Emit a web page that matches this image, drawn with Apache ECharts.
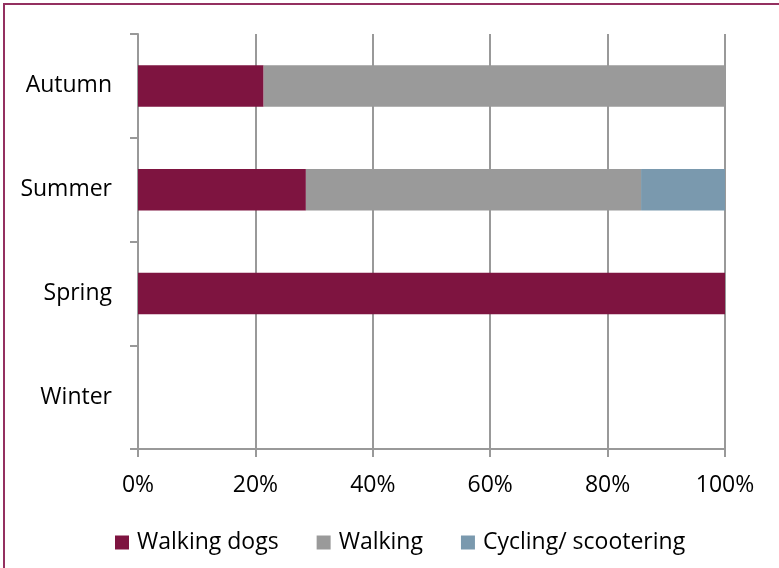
<!DOCTYPE html>
<html>
<head>
<meta charset="utf-8">
<script src="https://cdn.jsdelivr.net/npm/echarts@6/dist/echarts.min.js"></script>
<style>
    html, body { margin: 0; padding: 0; background: #fff; }
    #frame {
        position: absolute; left: 3px; top: 3px; width: 800px; height: 600px;
        border-left: 2px solid #943060; border-top: 2px solid #943060;
    }
    #main { position: absolute; left: 0; top: 0; width: 779px; height: 568px; }
</style>
</head>
<body>
<div id="frame"></div>
<div id="main"></div>
<script>
// 数据
var seasons = ['Winter', 'Spring', 'Summer', 'Autumn'];
var walkingDogs = [0, 100, 28.6, 21.4];
var walking = [0, 0, 57.1, 78.6];
var cycling = [0, 0, 14.3, 0];
var xTicks = [0, 20, 40, 60, 80, 100];

var font = 'Open Sans';

function barSeries(name, data, color) {
    return {
        name: name,
        type: 'bar',
        stack: 'total',
        barWidth: '40%',
        data: data,
        itemStyle: { color: color },
        emphasis: { disabled: true }
    };
}

var option = {
    animation: false,
    textStyle: { fontFamily: font },
    grid: {
        left: 138,
        right: 54,
        top: 34,
        bottom: 119,
        containLabel: false
    },
    legend: {
        left: 110,
        top: 526,
        icon: 'rect',
        itemWidth: 14,
        itemHeight: 14,
        itemGap: 38,
        textStyle: { fontFamily: font, fontSize: 23, color: '#000', padding: [0, 0, 0, 3] },
        data: ['Walking dogs', 'Walking', 'Cycling/ scootering']
    },
    xAxis: {
        type: 'value',
        min: xTicks[0],
        max: xTicks[xTicks.length - 1],
        interval: 20,
        axisLine: { show: true, lineStyle: { color: '#999', width: 2 } },
        axisTick: { show: true, length: 8, lineStyle: { color: '#999', width: 2 } },
        splitLine: { show: true, lineStyle: { color: '#999', width: 2 } },
        axisLabel: {
            margin: 25,
            fontSize: 23,
            color: '#000',
            fontFamily: font,
            formatter: '{value}%'
        }
    },
    yAxis: {
        type: 'category',
        data: seasons,
        axisLine: { show: true, lineStyle: { color: '#999', width: 2 } },
        axisTick: { show: true, length: 8, lineStyle: { color: '#999', width: 2 } },
        axisLabel: {
            margin: 26,
            fontSize: 23,
            color: '#000',
            fontFamily: font
        }
    },
    series: [
        barSeries('Walking dogs', walkingDogs, '#7E1440'),
        barSeries('Walking', walking, '#9A9A9A'),
        barSeries('Cycling/ scootering', cycling, '#7A99AE')
    ]
};

var myChart = echarts.init(document.getElementById('main'));
myChart.setOption(option);
</script>
</body>
</html>
